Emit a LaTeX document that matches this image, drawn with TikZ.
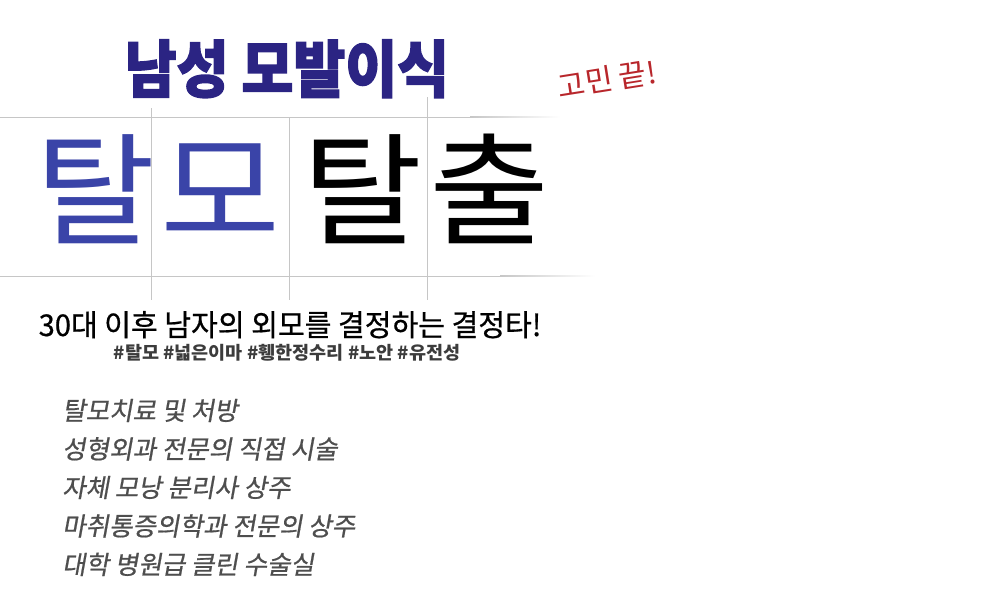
\documentclass[tikz,border=0pt]{standalone}
\usepackage{fontspec}
\newfontfamily\cjk{Noto Sans CJK KR}
\newfontfamily\cjkheavy[BoldFeatures={FakeBold=2.2}]{Noto Sans CJK KR}
\newfontfamily\cjkmed[FakeBold=0.6]{Noto Sans CJK KR}
\newfontfamily\cjkit[FakeSlant=0.18, FakeBold=0.7]{Noto Sans CJK KR}
\usetikzlibrary{positioning}
\definecolor{navy}{HTML}{2B2483}
\definecolor{bigblue}{HTML}{3A44A8}
\definecolor{penred}{HTML}{B8262B}
\definecolor{gridgray}{HTML}{C6C6C6}
\definecolor{tagcol}{HTML}{3C3C3C}
\definecolor{listgray}{HTML}{4E4E4E}

\begin{document}
\begin{tikzpicture}[x=1pt, y=-1pt]
\tikzstyle{title}=[font=\cjkheavy\bfseries\fontsize{62}{62}\selectfont, text=navy, inner sep=0pt, anchor=base, xscale=0.91]
\tikzstyle{big}=[font=\cjk\fontsize{122}{122}\selectfont, inner sep=0pt, anchor=base, xscale=1.07]
\tikzstyle{pen}=[font=\cjk\fontsize{30}{30}\selectfont, text=penred, inner sep=0pt]
\tikzstyle{sub}=[font=\cjkmed\fontsize{30}{30}\selectfont, inner sep=0pt, anchor=base, xscale=0.97]
\tikzstyle{tags}=[font=\cjk\bfseries\fontsize{18}{18}\selectfont, text=tagcol, inner sep=0pt, anchor=base, xscale=1.03]
\tikzstyle{item}=[font=\cjkit\fontsize{25.5}{25.5}\selectfont, text=listgray, inner sep=0pt, anchor=base west]
\tikzstyle{grid}=[draw=gridgray, line width=0.8pt]

  \useasboundingbox (0,0) rectangle (1000,600);

  % grid
  \draw[grid] (0,117) -- (470,117);
  \shade[left color=gridgray, right color=white] (470,116.6) rectangle (560,117.4);
  \draw[grid] (0,276) -- (500,276);
  \shade[left color=gridgray, right color=white] (500,275.6) rectangle (595,276.4);
  \draw[grid] (151.5,108) -- (151.5,300);
  \draw[grid] (289.5,117) -- (289.5,300);
  \draw[grid] (427.5,97) -- (427.5,300);

  \node[title] (title) at (287,92) {남성 모발이식};
  \node[pen, rotate=9] (pen) at (607,79) {고민 끝!};

  \node[big, text=bigblue] (c1) at (96,235) {탈};
  \node[big, text=bigblue] (c2) at (221,235) {모};
  \node[big] (c3) at (363,235) {탈};
  \node[big] (c4) at (490,235) {출};

  \node[sub] (sub) at (290,336) {30대 이후 남자의 외모를 결정하는 결정타!};
  \node[tags] (tags) at (287,359) {\#탈모 \#넓은이마 \#휑한정수리 \#노안 \#유전성};

  \node[item] (l1) at (62,420) {탈모치료 및 처방};
  \node[item] (l2) [below=38.5pt of l1.base west, anchor=base west] {성형외과 전문의 직접 시술};
  \node[item] (l3) [below=38.5pt of l2.base west, anchor=base west] {자체 모낭 분리사 상주};
  \node[item] (l4) [below=38.5pt of l3.base west, anchor=base west] {마취통증의학과 전문의 상주};
  \node[item] (l5) [below=38.5pt of l4.base west, anchor=base west] {대학 병원급 클린 수술실};

\end{tikzpicture}
\end{document}
